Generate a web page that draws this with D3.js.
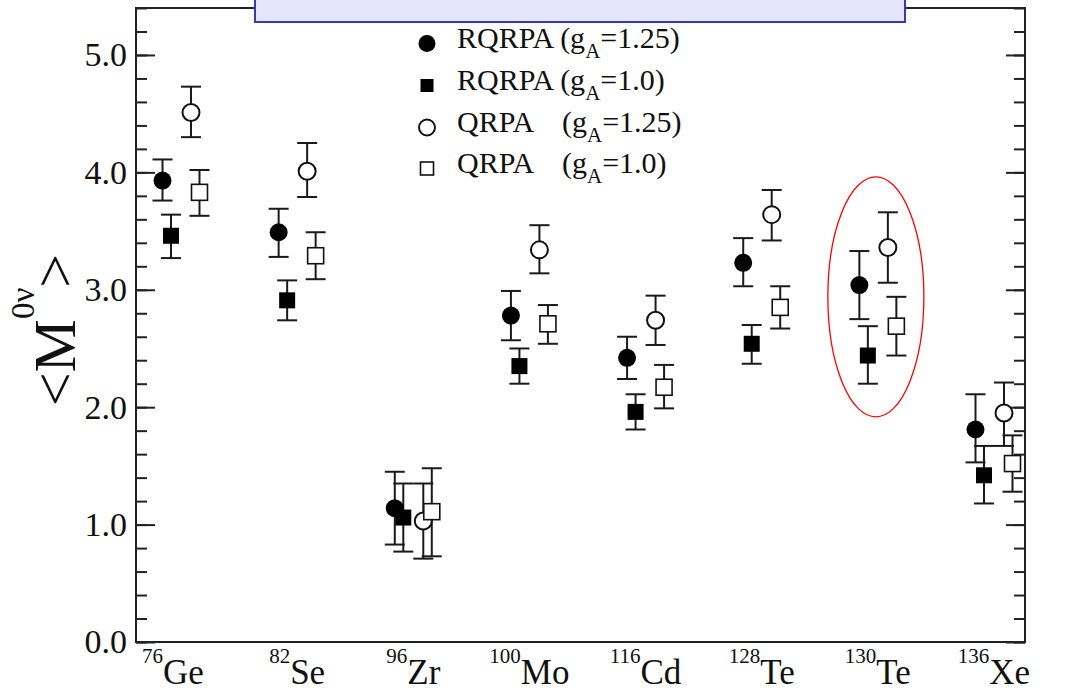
<!DOCTYPE html>
<html>
<head>
<meta charset="utf-8">
<script src="https://cdn.jsdelivr.net/npm/d3@7"></script>
<style>
  html, body { margin: 0; padding: 0; background: #fff; }
  svg { display: block; }
  text { font-family: "Liberation Serif", "Times New Roman", serif; fill: #111; }
</style>
</head>
<body>
<svg id="chart" width="1083" height="693"></svg>
<script>
// Nuclei (mass number + element)
const massNumbers = ["76", "82", "96", "100", "116", "128", "130", "136"];
const elements    = ["Ge", "Se", "Zr", "Mo", "Cd", "Te", "Te", "Xe"];

// RQRPA, gA = 1.25
const rqrpa125   = [3.93, 3.49, 1.14, 2.78, 2.42, 3.23, 3.04, 1.81];
const rqrpa125Lo = [3.76, 3.28, 0.83, 2.57, 2.24, 3.03, 2.75, 1.53];
const rqrpa125Hi = [4.11, 3.69, 1.45, 2.99, 2.60, 3.44, 3.33, 2.11];

// RQRPA, gA = 1.0
const rqrpa10   = [3.46, 2.91, 1.06, 2.35, 1.96, 2.54, 2.44, 1.42];
const rqrpa10Lo = [3.27, 2.74, 0.77, 2.20, 1.81, 2.37, 2.20, 1.18];
const rqrpa10Hi = [3.64, 3.08, 1.35, 2.50, 2.11, 2.70, 2.69, 1.67];

// QRPA, gA = 1.25
const qrpa125   = [4.51, 4.01, 1.03, 3.34, 2.74, 3.64, 3.36, 1.95];
const qrpa125Lo = [4.30, 3.79, 0.71, 3.14, 2.53, 3.42, 3.06, 1.67];
const qrpa125Hi = [4.73, 4.25, 1.35, 3.55, 2.95, 3.85, 3.66, 2.21];

// QRPA, gA = 1.0
const qrpa10   = [3.83, 3.29, 1.11, 2.71, 2.17, 2.85, 2.69, 1.52];
const qrpa10Lo = [3.63, 3.09, 0.73, 2.54, 1.99, 2.67, 2.44, 1.28];
const qrpa10Hi = [4.02, 3.49, 1.48, 2.87, 2.36, 3.03, 2.94, 1.76];

// Axis ticks
const majorTicks = [0, 1, 2, 3, 4, 5];
const minorTicks = d3.range(0, 5.41, 0.2).map(v => +v.toFixed(1));
const yDomain = [0, 5.4];

// Legend entries
const legendNames = ["RQRPA", "RQRPA", "QRPA", "QRPA"];
const legendGA    = ["1.25", "1.0", "1.25", "1.0"];

// Highlighted nucleus
const highlightIndex = 6;
const highlightCenter = 2.94;

const svg = d3.select("#chart");
const plot = { left: 136, right: 1025, top: 8, bottom: 642 };
const keys = massNumbers.map((m, i) => m + elements[i]);

const x = d3.scalePoint().domain(keys).range([181, 994]);
const y = d3.scaleLinear().domain(yDomain).range([plot.bottom, plot.top]);

const series = [
  { name: "rqrpa125", v: rqrpa125, lo: rqrpa125Lo, hi: rqrpa125Hi, dx: -18.5, shape: "circle", filled: true },
  { name: "rqrpa10",  v: rqrpa10,  lo: rqrpa10Lo,  hi: rqrpa10Hi,  dx: -10,   shape: "square", filled: true },
  { name: "qrpa125",  v: qrpa125,  lo: qrpa125Lo,  hi: qrpa125Hi,  dx: 10,    shape: "circle", filled: false },
  { name: "qrpa10",   v: qrpa10,   lo: qrpa10Lo,   hi: qrpa10Hi,   dx: 18.5,  shape: "square", filled: false }
];

// Left axis (ticks pointing inwards, with labels)
svg.append("g").attr("transform", `translate(${plot.left},0)`)
  .call(d3.axisLeft(y).tickValues(minorTicks).tickSize(-11).tickFormat(""));
const leftMajor = svg.append("g").attr("transform", `translate(${plot.left},0)`)
  .call(d3.axisLeft(y).tickValues(majorTicks).tickSize(-19).tickPadding(9).tickFormat(d3.format(".1f")));
leftMajor.selectAll("text").style("font-size", "34px").style("font-family", "Liberation Serif, serif").attr("fill", "#111");

// Right axis (mirrored ticks, no labels)
svg.append("g").attr("transform", `translate(${plot.right},0)`)
  .call(d3.axisRight(y).tickValues(minorTicks).tickSize(-11).tickFormat(""));
svg.append("g").attr("transform", `translate(${plot.right},0)`)
  .call(d3.axisRight(y).tickValues(majorTicks).tickSize(-19).tickFormat(""));

svg.selectAll(".domain").remove();
svg.selectAll(".tick line").attr("stroke", "#222").attr("stroke-width", 2);

// Frame
svg.append("rect")
  .attr("x", plot.left).attr("y", plot.top)
  .attr("width", plot.right - plot.left).attr("height", plot.bottom - plot.top)
  .attr("fill", "none").attr("stroke", "#222").attr("stroke-width", 2);

// Title box across the top edge
svg.append("rect")
  .attr("x", 255).attr("y", -10).attr("width", 650).attr("height", 32)
  .attr("fill", "#e5e5fb").attr("stroke", "#3b3ba6").attr("stroke-width", 2);

// Category labels with superscript mass numbers
const xl = svg.append("g");
keys.forEach((k, i) => {
  const t = xl.append("text")
    .attr("x", x(k) - (i === 0 ? 8 : 0)).attr("y", 684)
    .attr("text-anchor", "middle");
  t.append("tspan").text(massNumbers[i]).style("font-size", "21px").attr("dy", -21);
  t.append("tspan").text(elements[i]).style("font-size", "35px").attr("dy", 21);
});

// Y axis title: <M^0ν>
const yt = svg.append("text")
  .attr("transform", "translate(75,330) rotate(-90)")
  .attr("text-anchor", "middle")
  .style("font-size", "60px");
yt.append("tspan").text("<M");
yt.append("tspan").text("0ν").style("font-size", "33px").attr("dy", -41);
yt.append("tspan").text(">").attr("dy", 41);

// Error bars
const capHalf = 10;
const bars = svg.append("g").attr("stroke", "#1a1a1a").attr("stroke-width", 2);
series.forEach(s => {
  keys.forEach((k, i) => {
    const cx = x(k) + s.dx;
    bars.append("line").attr("x1", cx).attr("x2", cx).attr("y1", y(s.lo[i])).attr("y2", y(s.hi[i]));
    bars.append("line").attr("x1", cx - capHalf).attr("x2", cx + capHalf).attr("y1", y(s.lo[i])).attr("y2", y(s.lo[i]));
    bars.append("line").attr("x1", cx - capHalf).attr("x2", cx + capHalf).attr("y1", y(s.hi[i])).attr("y2", y(s.hi[i]));
  });
});

// Markers
function drawMarker(g, shape, filled, cx, cy, size) {
  if (shape === "circle") {
    g.append("circle").attr("cx", cx).attr("cy", cy).attr("r", filled ? size / 2 : size / 2 - 0.5)
      .attr("fill", filled ? "#000" : "#fff")
      .attr("stroke", "#111").attr("stroke-width", filled ? 0 : 2);
  } else {
    const h = size / 2 - 1;
    g.append("rect").attr("x", cx - h).attr("y", cy - h).attr("width", 2 * h).attr("height", 2 * h)
      .attr("fill", filled ? "#000" : "#fff")
      .attr("stroke", "#111").attr("stroke-width", filled ? 0 : 1.6);
  }
}
const marks = svg.append("g");
series.forEach(s => {
  keys.forEach((k, i) => drawMarker(marks, s.shape, s.filled, x(k) + s.dx, y(s.v[i]), 18));
});

// Legend
const lg = svg.append("g");
const rowY = [48, 90, 132, 173];
series.forEach((s, i) => {
  drawMarker(lg, s.shape, s.filled, 427, rowY[i] - 4.5, s.shape === "circle" ? 17 : 15);
  const t = lg.append("text").attr("x", 457).attr("y", rowY[i]).style("font-size", "30px");
  t.append("tspan").text(legendNames[i]);
  const p = t.append("tspan").text(" (g");
  if (legendNames[i] === "QRPA") p.attr("x", 562).text("(g");
  t.append("tspan").text("A").style("font-size", "21px").attr("dy", 10);
  t.append("tspan").text("=" + legendGA[i] + ")").attr("dy", -10);
});

// Highlight ellipse around 130Te
svg.append("ellipse")
  .attr("cx", x(keys[highlightIndex]) - 2).attr("cy", y(highlightCenter))
  .attr("rx", 48).attr("ry", 120)
  .attr("fill", "none").attr("stroke", "#f00").attr("stroke-width", 1.3);
</script>
</body>
</html>
